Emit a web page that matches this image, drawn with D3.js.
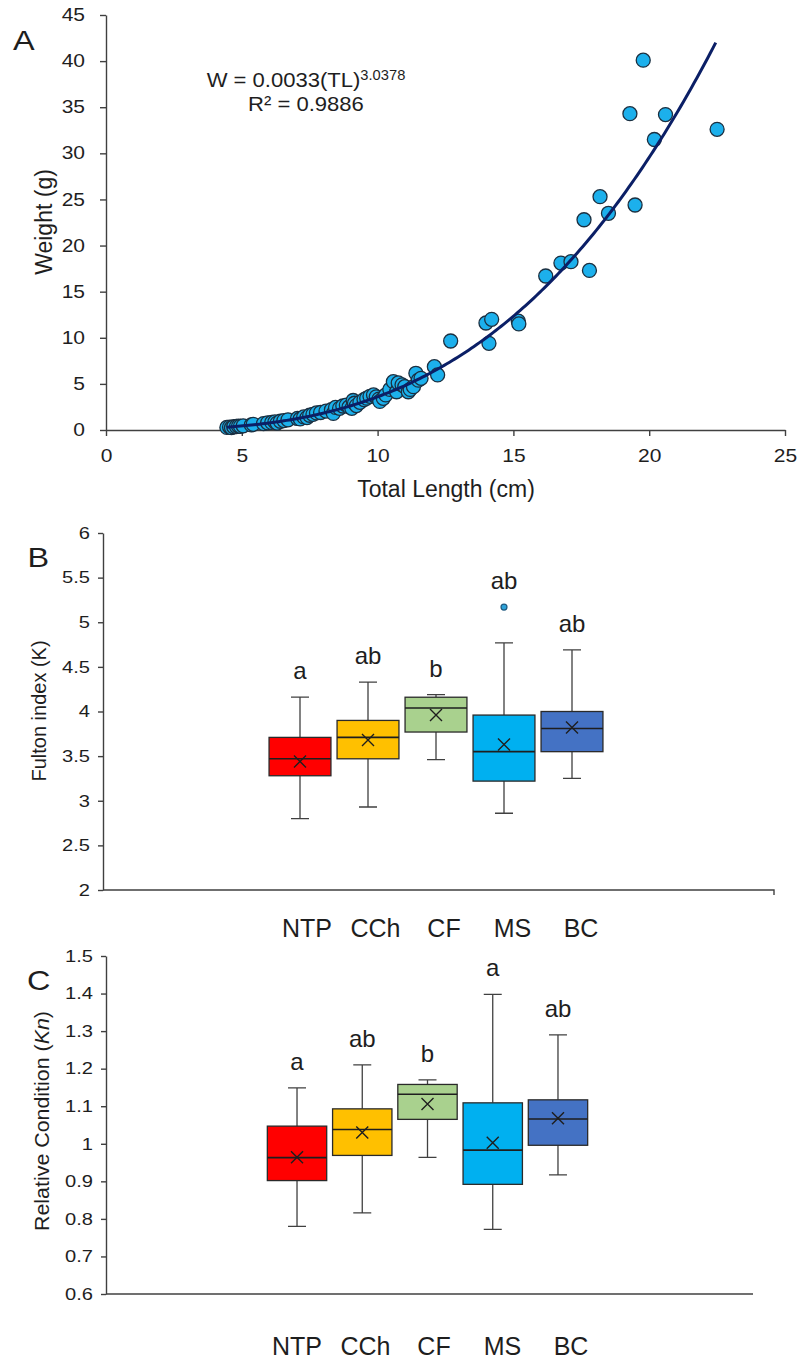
<!DOCTYPE html>
<html>
<head>
<meta charset="utf-8">
<script src="https://cdn.jsdelivr.net/npm/d3@7"></script>
<style>
  body { margin: 0; background: #fff; }
  svg { display: block; font-family: "Liberation Sans", Arial, sans-serif; }
</style>
</head>
<body>
<svg id="fig" width="799" height="1362"></svg>
<script>
// ---- Panel A: length-weight relationship ----
var fishTL = [4.45, 4.55, 4.62, 4.7, 4.8, 4.88, 4.95, 5.05, 5.35, 5.42, 5.8, 5.95, 6.1, 6.22, 6.3,
  6.42, 6.55, 6.7, 7.05, 7.15, 7.28, 7.4, 7.5, 7.62, 7.75, 7.9, 8.1, 8.3, 8.37, 8.45, 8.6, 8.72,
  8.85, 8.95, 9.05, 9.1, 9.15, 9.22, 9.35, 9.5, 9.6, 9.72, 9.85, 9.95, 10.05, 10.08, 10.21, 10.3,
  10.45, 10.58, 10.7, 10.76, 10.9, 11.0, 11.13, 11.2, 11.32, 11.41, 11.5, 11.6, 12.09, 12.21,
  12.69, 13.99, 14.1, 14.2, 15.18, 15.2, 16.19, 16.75, 17.12, 17.6, 17.8, 18.19, 18.5, 19.29,
  19.48, 19.78, 20.19, 20.6, 22.5];
var fishW = [0.28, 0.32, 0.25, 0.35, 0.38, 0.42, 0.4, 0.45, 0.55, 0.62, 0.7, 0.78, 0.82, 0.88, 0.75,
  0.95, 1.02, 1.1, 1.25, 1.2, 1.42, 1.35, 1.6, 1.7, 1.85, 1.9, 2.05, 2.2, 1.8, 2.45, 2.35, 2.6,
  2.7, 2.5, 2.35, 3.2, 2.9, 2.65, 3.0, 3.3, 3.45, 3.65, 3.8, 3.6, 3.35, 3.1, 3.44, 3.8,
  4.4, 5.24, 4.15, 5.1, 4.9, 4.7, 4.15, 4.4, 4.7, 6.15, 5.4, 5.6, 6.87, 5.97,
  9.65, 11.6, 9.4, 12.0, 11.8, 11.5, 16.7, 18.1, 18.25, 22.8, 17.3, 25.3, 23.5, 34.3,
  24.4, 40.1, 31.5, 34.2, 32.6];
var fitA = 0.0033, fitB = 3.0378, rSquared = 0.9886;
var lengthTicks = [0, 5, 10, 15, 20, 25];
var weightTicks = [0, 5, 10, 15, 20, 25, 30, 35, 40, 45];

// ---- Panels B and C: condition by site ----
var sites = ["NTP", "CCh", "CF", "MS", "BC"];
var siteColors = ["#ff0000", "#ffc000", "#a9d18e", "#00b0f0", "#4472c4"];

var kLo   = [2.80, 2.93, 3.46, 2.86, 3.25];
var kQ1   = [3.28, 3.47, 3.77, 3.22, 3.55];
var kMed  = [3.47, 3.71, 4.04, 3.55, 3.81];
var kQ3   = [3.71, 3.90, 4.16, 3.96, 4.00];
var kHi   = [4.16, 4.33, 4.19, 4.77, 4.69];
var kMean = [3.44, 3.68, 3.96, 3.63, 3.82];
var kOut  = [[], [], [], [5.17], []];
var kLetters = ["a", "ab", "b", "ab", "ab"];
var kTicks = [2, 2.5, 3, 3.5, 4, 4.5, 5, 5.5, 6];

var knLo   = [0.780, 0.816, 0.964, 0.772, 0.917];
var knQ1   = [0.902, 0.969, 1.065, 0.892, 0.996];
var knMed  = [0.963, 1.038, 1.132, 0.983, 1.066];
var knQ3   = [1.047, 1.093, 1.158, 1.109, 1.117];
var knHi   = [1.149, 1.210, 1.170, 1.398, 1.290];
var knMean = [0.964, 1.030, 1.106, 1.003, 1.068];
var knOut  = [[], [], [], [], []];
var knLetters = ["a", "ab", "b", "a", "ab"];
var knTicks = [0.6, 0.7, 0.8, 0.9, 1, 1.1, 1.2, 1.3, 1.4, 1.5];

var ink = "#1e1e1e", axisInk = "#404040";
var svg = d3.select("#fig");

// text in the figure is drawn a bit wide, so squash/stretch horizontally
function putText(g, str, x, y, size, k, anchor, rot) {
  return g.append("text")
    .attr("transform", "translate(" + x + "," + y + ")" + (rot ? " rotate(" + rot + ")" : "") + " scale(" + k + ",1)")
    .attr("text-anchor", anchor || "start")
    .attr("font-size", size)
    .attr("fill", ink)
    .text(str);
}

function styleAxis(g, size, k) {
  g.attr("font-family", null).attr("font-size", size);
  g.select(".domain").attr("stroke", axisInk).attr("stroke-width", 1.4);
  g.selectAll(".tick line").attr("stroke", axisInk).attr("stroke-width", 1.4);
  g.selectAll(".tick text").attr("fill", ink).each(function() {
    var t = d3.select(this);
    var x0 = +t.attr("x") || 0;
    t.attr("x", x0 / k).attr("transform", "scale(" + k + ",1)");
  });
}

// ================= Panel A =================
var gA = svg.append("g");
var xA = d3.scaleLinear().domain([0, 25]).range([106, 785]);
var yA = d3.scaleLinear().domain([0, 45]).range([430, 15]);

gA.append("g").attr("transform", "translate(0," + yA(0) + ")")
  .call(d3.axisBottom(xA).tickValues(lengthTicks).tickSize(6).tickSizeOuter(0).tickPadding(14))
  .call(styleAxis, 17.5, 1.2);
gA.append("g").attr("transform", "translate(" + xA(0) + ",0)")
  .call(d3.axisLeft(yA).tickValues(weightTicks).tickSize(6).tickSizeOuter(0).tickPadding(15))
  .call(styleAxis, 17.5, 1.2);

var pts = fishTL.map(function(d, i) { return { tl: d, w: fishW[i] }; });
gA.append("g").selectAll("circle").data(pts).join("circle")
  .attr("cx", function(d) { return xA(d.tl); })
  .attr("cy", function(d) { return yA(d.w); })
  .attr("r", 7)
  .attr("fill", "#1cb0ec")
  .attr("stroke", "#1b2f40")
  .attr("stroke-width", 1.3);

// power trendline W = a * TL^b over the observed length range
var tlExtent = d3.extent(fishTL);
var curve = d3.range(tlExtent[0], tlExtent[1] + 0.01, 0.1).map(function(t) { return [t, fitA * Math.pow(t, fitB)]; });
gA.append("path").datum(curve)
  .attr("fill", "none")
  .attr("stroke", "#0b1f66")
  .attr("stroke-width", 3)
  .attr("d", d3.line().x(function(d) { return xA(d[0]); }).y(function(d) { return yA(d[1]); }));

var eq = gA.append("text").attr("transform", "translate(306,87) scale(1.05,1)")
  .attr("text-anchor", "middle").attr("font-size", 21).attr("fill", ink);
eq.append("tspan").text("W = " + fitA + "(TL)");
eq.append("tspan").attr("font-size", 14).attr("dy", "-0.5em").text(fitB);
putText(gA, "R\u00b2 = " + rSquared, 306, 111, 21, 1.05, "middle");

putText(gA, "Total Length (cm)", 446, 497, 23, 1, "middle");
putText(gA, "Weight (g)", 52, 222, 23, 1, "middle", -90);
putText(gA, "A", 13, 50, 27, 1.2);

// ================= Panels B, C =================
function boxPanel(cfg) {
  var g = svg.append("g");
  var yS = d3.scaleLinear().domain(cfg.domain).range([cfg.bottom, cfg.top]);
  var xS = d3.scaleBand().domain(sites).range(cfg.band).paddingInner(0.09).paddingOuter(0.045);
  var labelS = d3.scalePoint().domain(sites).range(cfg.labelRange);
  var bw = xS.bandwidth();

  g.append("g").attr("transform", "translate(" + cfg.left + ",0)")
    .call(d3.axisLeft(yS).tickValues(cfg.ticks).tickSize(5).tickSizeOuter(0).tickPadding(8)
      .tickFormat(function(d) { return String(d); }))
    .call(styleAxis, 16.5, 1.22);
  g.append("path")
    .attr("d", "M" + cfg.left + "," + yS(cfg.domain[0]) + "H" + cfg.right + (cfg.endTick ? "v5" : ""))
    .attr("fill", "none").attr("stroke", axisInk).attr("stroke-width", 1.4);

  var rows = sites.map(function(s, i) {
    return { site: s, color: siteColors[i], lo: cfg.lo[i], q1: cfg.q1[i], med: cfg.med[i],
      q3: cfg.q3[i], hi: cfg.hi[i], mean: cfg.mean[i], out: cfg.out[i], letter: cfg.letters[i] };
  });
  var box = g.selectAll("g.box").data(rows).join("g").attr("class", "box");
  var cx = function(d) { return xS(d.site) + bw / 2; };

  box.append("path")
    .attr("d", function(d) {
      var c = cx(d);
      return "M" + c + "," + yS(d.hi) + "V" + yS(d.q3) + "M" + c + "," + yS(d.q1) + "V" + yS(d.lo) +
        "M" + (c - 9) + "," + yS(d.hi) + "h18M" + (c - 9) + "," + yS(d.lo) + "h18";
    })
    .attr("fill", "none").attr("stroke", axisInk).attr("stroke-width", 1.3);
  box.append("rect")
    .attr("x", function(d) { return xS(d.site); })
    .attr("y", function(d) { return yS(d.q3); })
    .attr("width", bw)
    .attr("height", function(d) { return yS(d.q1) - yS(d.q3); })
    .attr("fill", function(d) { return d.color; })
    .attr("stroke", "#2a2a2a").attr("stroke-width", 1.3);
  box.append("path")
    .attr("d", function(d) { return "M" + xS(d.site) + "," + yS(d.med) + "h" + bw; })
    .attr("stroke", "#1e1e1e").attr("stroke-width", 1.6);
  box.append("path")
    .attr("d", function(d) {
      var c = cx(d), m = yS(d.mean);
      return "M" + (c - 6) + "," + (m - 6) + "l12,12M" + (c + 6) + "," + (m - 6) + "l-12,12";
    })
    .attr("stroke", "#1e1e1e").attr("stroke-width", 1.4);
  box.selectAll("circle").data(function(d) { return d.out.map(function(v) { return { c: cx(d), v: v }; }); })
    .join("circle")
    .attr("cx", function(d) { return d.c; })
    .attr("cy", function(d) { return yS(d.v); })
    .attr("r", 3)
    .attr("fill", "#2ea3d9").attr("stroke", "#1f5a80").attr("stroke-width", 1.2);
  box.append("text")
    .attr("x", cx)
    .attr("y", function(d) { return yS(d3.max([d.hi].concat(d.out))) - 18; })
    .attr("text-anchor", "middle").attr("font-size", 24).attr("fill", ink)
    .text(function(d) { return d.letter; });

  g.selectAll("text.site").data(sites).join("text").attr("class", "site")
    .attr("x", function(d) { return labelS(d); })
    .attr("y", cfg.labelY)
    .attr("text-anchor", "middle").attr("font-size", 25).attr("fill", ink)
    .text(function(d) { return d; });

  putText(g, cfg.letter, cfg.letterX, cfg.letterY, 27, 1.2);
  return g;
}

boxPanel({
  domain: [2, 6], ticks: kTicks, top: 533, bottom: 890, left: 103, right: 774, endTick: true,
  band: [266, 606], labelRange: [307, 581], labelY: 937,
  lo: kLo, q1: kQ1, med: kMed, q3: kQ3, hi: kHi, mean: kMean, out: kOut, letters: kLetters,
  letter: "B", letterX: 27.5, letterY: 567
});
putText(svg, "Fulton index (K)", 46, 711, 20, 1, "middle", -90);

boxPanel({
  domain: [0.6, 1.5], ticks: knTicks, top: 956, bottom: 1294, left: 106, right: 753, endTick: false,
  band: [264.4, 590.6], labelRange: [297, 571], labelY: 1355,
  lo: knLo, q1: knQ1, med: knMed, q3: knQ3, hi: knHi, mean: knMean, out: knOut, letters: knLetters,
  letter: "C", letterX: 27, letterY: 990
});
var kn = putText(svg, "Relative Condition (", 49, 1121, 20, 1.07, "middle", -90).text(null);
kn.append("tspan").text("Relative Condition (");
kn.append("tspan").attr("font-style", "italic").text("Kn");
kn.append("tspan").text(")");
</script>
</body>
</html>
